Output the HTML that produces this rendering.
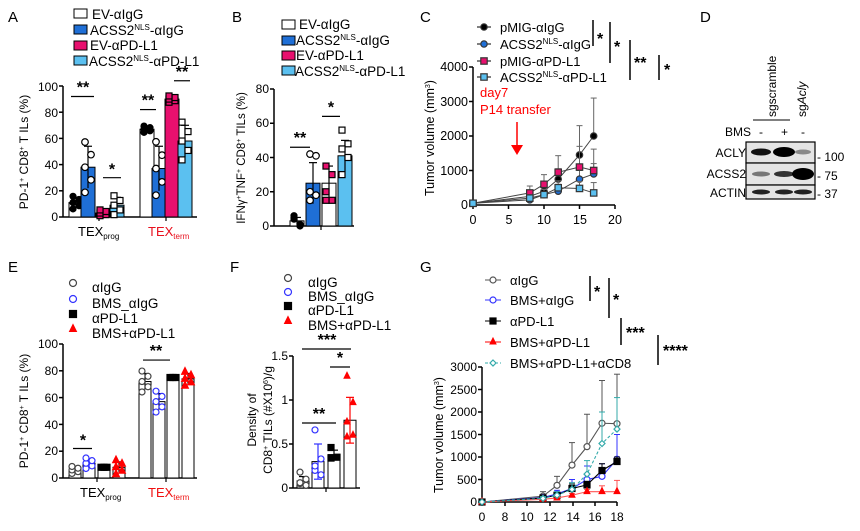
<!DOCTYPE html>
<html><head><meta charset="utf-8"><style>
body{margin:0;background:#fff}
svg{display:block;font-family:"Liberation Sans",Arial,sans-serif}
</style></head><body>
<svg id="s" width="860" height="531" viewBox="0 0 860 531" xmlns="http://www.w3.org/2000/svg">
<g font-size="15" fill="#000">
<text x="8" y="22">A</text><text x="232" y="22">B</text><text x="420" y="22">C</text><text x="700" y="22">D</text>
<text x="8" y="272">E</text><text x="230" y="272">F</text><text x="420" y="272">G</text>
</g>
<g font-size="13.5">
<rect x="74" y="9" width="13" height="9" fill="#fff" stroke="#000"/><text x="92" y="19">EV-αIgG</text>
<rect x="74" y="25" width="13" height="9" fill="#1f6fd6" stroke="#000"/><text x="90" y="35">ACSS2<tspan font-size="8" dy="-5">NLS</tspan><tspan dy="5">-αIgG</tspan></text>
<rect x="74" y="41" width="13" height="9" fill="#e8106e" stroke="#000"/><text x="90" y="50">EV-αPD-L1</text>
<rect x="74" y="56" width="13" height="9" fill="#5bc0f0" stroke="#000"/><text x="89" y="66">ACSS2<tspan font-size="8" dy="-5">NLS</tspan><tspan dy="5">-αPD-L1</tspan></text>
</g>
<g font-size="12" text-anchor="end">
<text x="58" y="91">100</text><text x="58" y="117">80</text><text x="58" y="143">60</text><text x="58" y="169">40</text><text x="58" y="195">20</text><text x="58" y="221">0</text>
</g>
<text transform="translate(28,152) rotate(-90)" font-size="12" text-anchor="middle">PD-1<tspan font-size="7" dy="-4">+</tspan><tspan dy="4"> CD8</tspan><tspan font-size="7" dy="-4">+</tspan><tspan dy="4"> T ILs (%)</tspan></text>
<text x="78" y="236" font-size="13">TEX<tspan font-size="8" dy="3">prog</tspan></text>
<text x="148" y="236" font-size="13" fill="#e8101e">TEX<tspan font-size="8" dy="3">term</tspan></text>
<g font-size="13.5">
<rect x="282" y="20" width="13" height="9" fill="#fff" stroke="#000"/><text x="299" y="29">EV-αIgG</text>
<rect x="282" y="36" width="13" height="9" fill="#1f6fd6" stroke="#000"/><text x="296" y="45">ACSS2<tspan font-size="8" dy="-5">NLS</tspan><tspan dy="5">-αIgG</tspan></text>
<rect x="282" y="51" width="13" height="9" fill="#e8106e" stroke="#000"/><text x="296" y="60">EV-αPD-L1</text>
<rect x="282" y="66" width="13" height="9" fill="#5bc0f0" stroke="#000"/><text x="295" y="76">ACSS2<tspan font-size="8" dy="-5">NLS</tspan><tspan dy="5">-αPD-L1</tspan></text>
</g>
<g font-size="12" text-anchor="end">
<text x="269" y="93">80</text><text x="269" y="127">60</text><text x="269" y="162">40</text><text x="269" y="196">20</text><text x="269" y="230">0</text>
</g>
<text transform="translate(245,158) rotate(-90)" font-size="11.5" text-anchor="middle">IFNγ<tspan font-size="7" dy="-4">+</tspan><tspan dy="4">TNF</tspan><tspan font-size="7" dy="-4">+</tspan><tspan dy="4"> CD8</tspan><tspan font-size="7" dy="-4">+</tspan><tspan dy="4"> TILs (%)</tspan></text>
<g font-size="13">
<text x="500" y="32">pMIG-αIgG</text>
<text x="500" y="49">ACSS2<tspan font-size="8" dy="-5">NLS</tspan><tspan dy="5">-αIgG</tspan></text>
<text x="500" y="66">pMIG-αPD-L1</text>
<text x="500" y="82">ACSS2<tspan font-size="8" dy="-5">NLS</tspan><tspan dy="5">-αPD-L1</tspan></text>
</g>
<g font-size="16" font-weight="bold"><text x="597" y="44">*</text><text x="614" y="52">*</text><text x="634" y="68">**</text><text x="664" y="75">*</text></g>
<g font-size="12.5" text-anchor="end">
<text x="468" y="71">4000</text><text x="468" y="106">3000</text><text x="468" y="140">2000</text><text x="468" y="175">1000</text><text x="468" y="209">0</text>
</g>
<g font-size="12.5" text-anchor="middle"><text x="473" y="224">0</text><text x="509" y="224">5</text><text x="544" y="224">10</text><text x="580" y="224">15</text><text x="615" y="224">20</text></g>
<text transform="translate(434,138) rotate(-90)" font-size="12.5" text-anchor="middle">Tumor volume (mm<tspan font-size="7" dy="-4">3</tspan><tspan dy="4">)</tspan></text>
<text x="480" y="97" font-size="13" fill="#f00">day7</text>
<text x="480" y="114" font-size="13" fill="#f00">P14 transfer</text>
<text transform="translate(776,117) rotate(-90)" font-size="12">sgscramble</text>
<text transform="translate(806,117) rotate(-90)" font-size="12">sg<tspan font-style="italic">Acly</tspan></text>
<line x1="753" y1="120" x2="790" y2="120" stroke="#000"/>
<g font-size="12"><text x="725" y="136">BMS</text><text x="759" y="136">-</text><text x="781" y="136">+</text><text x="801" y="136">-</text></g>
<g font-size="12" text-anchor="end"><text x="746" y="157">ACLY</text><text x="746" y="178">ACSS2</text><text x="746" y="197">ACTIN</text></g>
<g font-size="12"><text x="817" y="161">- 100</text><text x="817" y="180">- 75</text><text x="817" y="198">- 37</text></g>
<g font-size="13.5">
<text x="92" y="292">αIgG</text><text x="92" y="308">BMS_αIgG</text><text x="92" y="323">αPD-L1</text><text x="92" y="338">BMS+αPD-L1</text>
</g>
<g font-size="12" text-anchor="end">
<text x="58" y="348">100</text><text x="58" y="375">80</text><text x="58" y="402">60</text><text x="58" y="429">40</text><text x="58" y="455">20</text><text x="58" y="482">0</text>
</g>
<text transform="translate(28,411) rotate(-90)" font-size="12" text-anchor="middle">PD-1<tspan font-size="7" dy="-4">+</tspan><tspan dy="4"> CD8</tspan><tspan font-size="7" dy="-4">+</tspan><tspan dy="4"> T ILs (%)</tspan></text>
<text x="80" y="497" font-size="13">TEX<tspan font-size="8" dy="3">prog</tspan></text>
<text x="148" y="497" font-size="13" fill="#f01010">TEX<tspan font-size="8" dy="3">term</tspan></text>
<g font-size="13.5">
<text x="308" y="287">αIgG</text><text x="308" y="301">BMS_αIgG</text><text x="308" y="315">αPD-L1</text><text x="308" y="330">BMS+αPD-L1</text>
</g>
<g font-size="12" text-anchor="end"><text x="288" y="360">1.5</text><text x="288" y="404">1</text><text x="288" y="448">0.5</text><text x="288" y="492">0</text></g>
<text transform="translate(256,420) rotate(-90)" font-size="12" text-anchor="middle">Density of</text>
<text transform="translate(272,420) rotate(-90)" font-size="12" text-anchor="middle">CD8<tspan font-size="7" dy="-4">+</tspan><tspan dy="4"> TILs (#X10</tspan><tspan font-size="7" dy="-4">6</tspan><tspan dy="4">)/g</tspan></text>
<g font-size="13">
<text x="510" y="285">αIgG</text><text x="510" y="305">BMS+αIgG</text><text x="510" y="326">αPD-L1</text><text x="510" y="347">BMS+αPD-L1</text><text x="510" y="368">BMS+αPD-L1+αCD8</text>
</g>
<g font-size="16" font-weight="bold"><text x="594" y="297">*</text><text x="613" y="305">*</text><text x="626" y="338">***</text><text x="663" y="356">****</text></g>
<g font-size="12" text-anchor="end">
<text x="477" y="371">3000</text><text x="477" y="394">2500</text><text x="477" y="416">2000</text><text x="477" y="439">1500</text><text x="477" y="461">1000</text><text x="477" y="484">500</text><text x="477" y="506">0</text>
</g>
<g font-size="12" text-anchor="middle"><text x="482" y="521">0</text><text x="505" y="521">8</text><text x="527" y="521">10</text><text x="550" y="521">12</text><text x="573" y="521">14</text><text x="595" y="521">16</text><text x="617" y="521">18</text></g>
<text transform="translate(443,435) rotate(-90)" font-size="12.5" text-anchor="middle">Tumor volume (mm<tspan font-size="7" dy="-4">3</tspan><tspan dy="4">)</tspan></text>
<g id="gen"></g>
</svg>
<script>
const NS="http://www.w3.org/2000/svg",G=document.getElementById('gen');
function el(t,a){const e=document.createElementNS(NS,t);for(const k in a)e.setAttribute(k,a[k]);G.appendChild(e);return e}
function ln(x1,y1,x2,y2,c,w,d){el('line',{x1,y1,x2,y2,stroke:c||'#000','stroke-width':w||1.2,'stroke-dasharray':d||''})}
function star(x,y,s){const t=el('text',{x,y,'font-size':16,'font-weight':'bold','text-anchor':'middle'});t.textContent=s}
function mk(type,x,y,fill,stroke,r){r=r||3;
 if(type=='c')el('circle',{cx:x,cy:y,r,fill,stroke,'stroke-width':1.2});
 else if(type=='s')el('rect',{x:x-r,y:y-r,width:2*r,height:2*r,fill,stroke,'stroke-width':1.2});
 else if(type=='t')el('polygon',{points:`${x},${y-r-1} ${x-r},${y+r-1} ${x+r},${y+r-1}`,fill,stroke});
 else if(type=='d')el('polygon',{points:`${x},${y-r} ${x+r},${y} ${x},${y+r} ${x-r},${y}`,fill,stroke,'stroke-width':1.2});}
function axisY(x,y0,y1,ticks){ln(x,y0,x,y1,'#000',1.5);ticks.forEach(t=>ln(x-4,t,x,t,'#000',1.5))}
(function(){const ya=v=>217-v*1.31;axisY(63,86,217,[0,20,40,60,80,100].map(ya));ln(63,217,197,217,'#000',1.5);ln(99,217,99,221);ln(166,217,166,221);
const cs=['#fff','#1f6fd6','#e8106e','#5bc0f0'];
const bars=[[76,11,4],[88,38,16],[103,3,2],[117,9,6],[147,67,2],[159,37,17],[172,90,2],[185,58,12]];
bars.forEach((b,i)=>{const c=cs[i%4];el('rect',{x:b[0]-7,y:ya(b[1]),width:14,height:217-ya(b[1]),fill:c,stroke:'#000','stroke-width':1});
ln(b[0],ya(b[1]-b[2]),b[0],ya(b[1]+b[2]));ln(b[0]-4,ya(b[1]+b[2]),b[0]+4,ya(b[1]+b[2]));
const sp=[-12,-6,0,6,12];sp.forEach((d,j)=>{const v=Math.max(1,b[1]+d*b[2]/10);const xo=(j%2?3:-3);
 if(i%4==0)mk('c',b[0]+xo,ya(v),'#000','#000',3);else if(i%4==1)mk('c',b[0]+xo,ya(v),'#fff','#000',3.3);else if(i%4==2)mk('s',b[0]+xo,ya(v),'#e8106e','#000',3);else mk('s',b[0]+xo,ya(v),'#fff','#000',3);});});
ln(71,ya(92)-0,94,ya(92));star(83,ya(92)-4,'**');ln(103,ya(30),121,ya(30));star(112,ya(30)-3,'*');
ln(140,ya(82),156,ya(82));star(148,ya(82)-4,'**');ln(174,ya(104),190,ya(104));star(182,ya(104)-4,'**');})();
(function(){const ya=v=>226-v*1.7125;axisY(274,89,226,[0,20,40,60,80].map(ya));ln(274,226,354,226,'#000',1.5);ln(321,226,321,230);
const cs=['#fff','#1f6fd6','#fff','#5bc0f0'];const bars=[[297,3,2],[313,25,12],[329,25,10],[345,41,9]];
const pts=[[5,1,6,0,4],[42,41,20,18,15],[35,30,20,15,15],[56,48,45,40,30]];
bars.forEach((b,i)=>{el('rect',{x:b[0]-7,y:ya(b[1]),width:14,height:226-ya(b[1]),fill:cs[i],stroke:'#000'});
ln(b[0],ya(b[1]-b[2]),b[0],ya(b[1]+b[2]));ln(b[0]-4,ya(b[1]+b[2]),b[0]+4,ya(b[1]+b[2]));
pts[i].forEach((v,j)=>{const x=b[0]+(j%2?3:-3);if(i==0)mk('c',x,ya(v),'#000','#000');else if(i==1)mk('c',x,ya(v),'#fff','#000',3.3);else if(i==2)mk('s',x,ya(v),'#e8106e','#000');else mk('s',x,ya(v),'#fff','#000');});});
ln(290,ya(46),310,ya(46));star(300,ya(46)-4,'**');ln(322,ya(64),340,ya(64));star(331,ya(64)-4,'*');})();
(function(){const ya=v=>205-v*0.0345,xa=d=>473+d*7.1;axisY(473,67,205,[0,1000,2000,3000,4000].map(ya));ln(473,205,615,205,'#000',1.5);[0,5,10,15,20].forEach(d=>ln(xa(d),205,xa(d),209,'#000',1.5));
const D=[0,8,10,12,15,17];
const S=[[[50,250,400,750,1450,2000],[0,100,200,300,850,1100],'c','#000'],[[50,150,300,400,750,900],[0,80,150,200,250,300],'c','#1f6fd6'],[[50,350,600,950,1100,1000],[0,200,280,480,600,620],'s','#e8106e'],[[50,200,300,500,480,350],[0,100,150,200,200,300],'s','#5bc0f0']];
S.forEach(s=>{const p=D.map((d,i)=>xa(d)+','+ya(s[0][i])).join(' ');el('polyline',{points:p,fill:'none',stroke:'#444','stroke-width':1});
D.forEach((d,i)=>{if(s[1][i]){ln(xa(d),ya(s[0][i]),xa(d),ya(s[0][i]+s[1][i]),'#666',1);ln(xa(d)-3,ya(s[0][i]+s[1][i]),xa(d)+3,ya(s[0][i]+s[1][i]),'#666',1)}mk(s[2],xa(d),ya(s[0][i]),s[3],'#333',3.2)});});
[[27,'c','#000'],[44,'c','#1f6fd6'],[61,'s','#e8106e'],[77,'s','#5bc0f0']].forEach(r=>{ln(477,r[0],491,r[0],'#000',1);mk(r[1],484,r[0],r[2],'#333',3.2)});
ln(593,20,593,46,'#000',1.5);ln(610,22,610,63,'#000',1.5);ln(630,40,630,80,'#000',1.5);ln(659,55,659,80,'#000',1.5);
ln(517,122,517,146,'#f00',1.5);el('polygon',{points:'511,145 523,145 517,155',fill:'#f00'});})();
(function(){[[142,163],[163,185],[185,199]].forEach(b=>el('rect',{x:746,y:b[0],width:69,height:b[1]-b[0],fill:'#e4e4e4',stroke:'#000','stroke-width':1.2}));
const band=(x,y,w,h,c)=>el('ellipse',{cx:x,cy:y,rx:w,ry:h,fill:c});
band(761,152,10,3.5,'#111');band(784,152,11,5,'#000');band(803,152,8,2.5,'#888');
band(761,174,9,2.5,'#777');band(784,174,10,3,'#333');band(803,174,11,6,'#000');
band(761,192,9,2.5,'#222');band(784,192,9,2.5,'#222');band(803,192,9,2.5,'#222');})();
(function(){const ya=v=>478-v*1.34;axisY(63,344,478,[0,20,40,60,80,100].map(ya));ln(63,478,197,478,'#000',1.5);ln(97,478,97,482);ln(166,478,166,482);
const bars=[[75,6,2],[89,11,3],[104,8,2],[119,8,4],[145,72,6],[159,57,6],[173,75,1],[188,74,4]];
bars.forEach((b,i)=>{el('rect',{x:b[0]-6,y:ya(b[1]),width:12,height:478-ya(b[1]),fill:'#fff',stroke:'#000'});
ln(b[0],ya(b[1]-b[2]),b[0],ya(b[1]+b[2]));ln(b[0]-4,ya(b[1]+b[2]),b[0]+4,ya(b[1]+b[2]));
[-1,-0.5,0,0.5,1].forEach((d,j)=>{const x=b[0]+(j%2?3:-3),y=ya(b[1]+d*b[2]*1.3);const t=i%4;
 if(t==0)mk('c',x,y,'#fff','#444',3);else if(t==1)mk('c',x,y,'#fff','#33f',3);else if(t==2){if(j<3)mk('s',b[0]+(j-1)*3,ya(b[1]),'#000','#000',3)}else mk('t',x,y,'#f00','#f00',3.5);});});
ln(73,ya(22),92,ya(22));star(83,ya(22)-3,'*');ln(143,ya(88),170,ya(88));star(156,ya(88)-4,'**');
[[287,'c','#fff','#444'],[303,'c','#fff','#33f'],[318,'s','#000','#000'],[333,'t','#f00','#f00']].forEach(r=>mk(r[1],73,r[0]-4,r[2],r[3],3.5));})();
(function(){const ya=v=>488-v*88;axisY(293,356,488,[0,0.5,1,1.5].map(ya));ln(293,488,360,488,'#000',1.5);ln(326,488,326,492);
const bars=[[303,0.08,0.05,[0.18,0.1,0.05,0.03,0.06],'c','#fff','#444'],[318,0.3,0.2,[0.66,0.33,0.2,0.15,0.25],'c','#fff','#33f'],[334,0.38,0.05,[0.46,0.35,0.34],'s','#000','#000'],[350,0.77,0.26,[1.27,0.97,0.75,0.6,0.58],'t','#f00','#f00']];
bars.forEach(b=>{el('rect',{x:b[0]-6,y:ya(b[1]),width:12,height:488-ya(b[1]),fill:'#fff',stroke:'#000'});
const ec=b[6]=='#444'?'#000':b[6];ln(b[0],ya(b[1]-b[2]),b[0],ya(b[1]+b[2]),ec);ln(b[0]-4,ya(b[1]+b[2]),b[0]+4,ya(b[1]+b[2]),ec);ln(b[0]-4,ya(b[1]-b[2]),b[0]+4,ya(b[1]-b[2]),ec);
b[3].forEach((v,j)=>mk(b[4],b[0]+(j%2?3:-3),ya(v),b[5],b[6],3));});
ln(302,349,351,349);star(327,345,'***');ln(330,367,350,367);star(340,363,'*');ln(302,423,336,423);star(319,419,'**');
[[282,'c','#fff','#444'],[296,'c','#fff','#33f'],[310,'s','#000','#000'],[325,'t','#f00','#f00']].forEach(r=>mk(r[1],288,r[0]-4,r[2],r[3],3.5));})();
(function(){const ya=v=>502-v*0.045;const X=[482,543,557,572,587,602,617];
axisY(482,367,502,[0,500,1000,1500,2000,2500,3000].map(ya));ln(482,502,617,502,'#000',1.5);[482,505,527,550,573,595,617].forEach(x=>ln(x,502,x,506,'#000',1.5));
const S=[[[0,130,370,820,1230,1750,1740],[0,100,200,500,720,950,1100],'c','#fff','#555','#555',''],
[[0,100,180,300,500,570,950],[0,50,80,200,300,280,550],'c','#fff','#33f','#33f',''],
[[0,90,150,300,380,700,900],[0,40,60,100,80,150,100],'s','#000','#000','#000',''],
[[0,60,90,150,230,230,230],[0,30,30,40,50,130,250],'t','#f00','#f00','#f55',''],
[[0,80,150,280,620,1300,1620],[0,40,80,150,300,700,700],'d','#fff','#3aa','#3aa','3,2']];
S.forEach(s=>{el('polyline',{points:X.map((x,i)=>x+','+ya(s[0][i])).join(' '),fill:'none',stroke:s[5],'stroke-width':1.1,'stroke-dasharray':s[6]});
X.forEach((x,i)=>{if(s[1][i]){ln(x,ya(s[0][i]),x,ya(s[0][i]+s[1][i]),s[5],1);ln(x-3,ya(s[0][i]+s[1][i]),x+3,ya(s[0][i]+s[1][i]),s[5],1)}mk(s[2],x,ya(s[0][i]),s[3],s[4],3)});});
[[280,'c','#fff','#555',''],[300,'c','#fff','#33f',''],[321,'s','#000','#000',''],[342,'t','#f00','#f00',''],[363,'d','#fff','#3aa','3,2']].forEach(r=>{ln(485,r[0],501,r[0],r[3],1,r[4]);mk(r[1],493,r[0],r[2],r[3],3)});
ln(590,276,590,301,'#000',1.5);ln(609,278,609,318,'#000',1.5);ln(621,318,621,345,'#000',1.5);ln(658,335,658,365,'#000',1.5);})();
</script>
</body></html>
